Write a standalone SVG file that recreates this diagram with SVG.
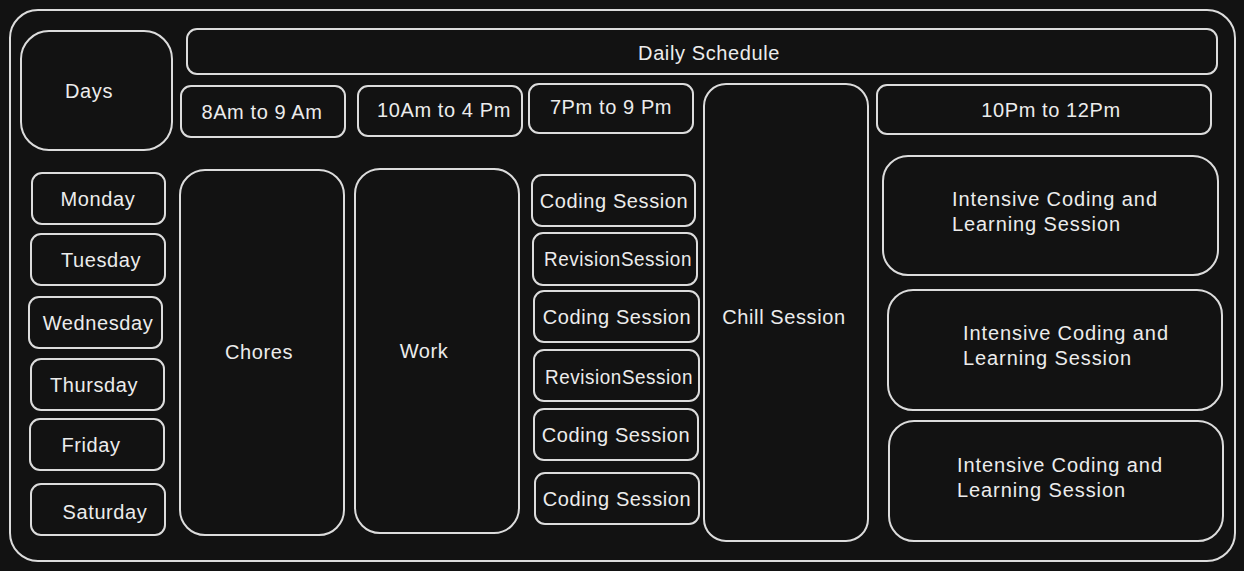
<svg xmlns="http://www.w3.org/2000/svg" width="1244" height="571" viewBox="0 0 1244 571">
<style>
.b{fill:#121212;stroke:#dcdcdc;stroke-width:2}
.t{fill:#ececec;font-family:"Liberation Sans",Arial,sans-serif;font-size:20px;letter-spacing:0.6px;text-anchor:middle;dominant-baseline:central}
.l{fill:#ececec;font-family:"Liberation Sans",Arial,sans-serif;font-size:20px;letter-spacing:0.9px}
</style>
<rect width="1244" height="571" fill="#121212"/>
<g id="frame"><rect class="b" x="10" y="10" width="1225" height="551" rx="28"/></g>
<g id="days"><rect class="b" x="21" y="31" width="151" height="119" rx="28"/><text class="t" x="89" y="91">Days</text></g>
<g id="daily-schedule"><rect class="b" x="187" y="29" width="1030" height="45" rx="10"/><text class="t" x="709" y="53">Daily Schedule</text></g>
<g id="slot-8am"><rect class="b" x="181" y="86" width="164" height="51" rx="10"/><text class="t" x="262" y="112">8Am to 9 Am</text></g>
<g id="slot-10am"><rect class="b" x="358" y="86" width="164" height="50" rx="10"/><text class="t" x="444" y="110">10Am to 4 Pm</text></g>
<g id="slot-7pm"><rect class="b" x="529" y="84" width="164" height="49" rx="10"/><text class="t" x="611" y="107">7Pm to 9 Pm</text></g>
<g id="chill"><rect class="b" x="704" y="84" width="164" height="457" rx="22"/><text class="t" x="784" y="317">Chill Session</text></g>
<g id="slot-10pm"><rect class="b" x="877" y="85" width="334" height="49" rx="10"/><text class="t" x="1051" y="110">10Pm to 12Pm</text></g>
<g id="monday"><rect class="b" x="32" y="173" width="133" height="51" rx="10"/><text class="t" x="98" y="199">Monday</text></g>
<g id="tuesday"><rect class="b" x="31" y="234" width="134" height="51" rx="10"/><text class="t" x="101" y="260">Tuesday</text></g>
<g id="wednesday"><rect class="b" x="29" y="297" width="133" height="51" rx="10"/><text class="t" x="98" y="323">Wednesday</text></g>
<g id="thursday"><rect class="b" x="31" y="359" width="133" height="51" rx="10"/><text class="t" x="94" y="385">Thursday</text></g>
<g id="friday"><rect class="b" x="30" y="419" width="134" height="51" rx="10"/><text class="t" x="91" y="445">Friday</text></g>
<g id="saturday"><rect class="b" x="31" y="484" width="134" height="51" rx="10"/><text class="t" x="105" y="512">Saturday</text></g>
<g id="chores"><rect class="b" x="180" y="170" width="164" height="365" rx="25"/><text class="t" x="259" y="352">Chores</text></g>
<g id="work"><rect class="b" x="355" y="169" width="164" height="364" rx="25"/><text class="t" x="424" y="351">Work</text></g>
<g id="s1"><rect class="b" x="532" y="175" width="163" height="51" rx="10"/><text class="t" x="614" y="201">Coding Session</text></g>
<g id="s2"><rect class="b" x="533" y="233" width="164" height="52" rx="10"/><text class="t" x="618" y="259" textLength="148" lengthAdjust="spacingAndGlyphs">RevisionSession</text></g>
<g id="s3"><rect class="b" x="534" y="291" width="165" height="51" rx="10"/><text class="t" x="617" y="317">Coding Session</text></g>
<g id="s4"><rect class="b" x="534" y="350" width="165" height="51" rx="10"/><text class="t" x="619" y="377" textLength="148" lengthAdjust="spacingAndGlyphs">RevisionSession</text></g>
<g id="s5"><rect class="b" x="534" y="409" width="164" height="51" rx="10"/><text class="t" x="616" y="435">Coding Session</text></g>
<g id="s6"><rect class="b" x="535" y="473" width="164" height="51" rx="10"/><text class="t" x="617" y="499">Coding Session</text></g>
<g id="i1"><rect class="b" x="883" y="156" width="335" height="119" rx="25"/><text class="l" x="952" y="206">Intensive Coding and<tspan x="952" dy="25">Learning Session</tspan></text></g>
<g id="i2"><rect class="b" x="888" y="290" width="334" height="120" rx="25"/><text class="l" x="963" y="340">Intensive Coding and<tspan x="963" dy="25">Learning Session</tspan></text></g>
<g id="i3"><rect class="b" x="889" y="421" width="334" height="120" rx="25"/><text class="l" x="957" y="472">Intensive Coding and<tspan x="957" dy="25">Learning Session</tspan></text></g>
<g id="connectors"></g>
</svg>
